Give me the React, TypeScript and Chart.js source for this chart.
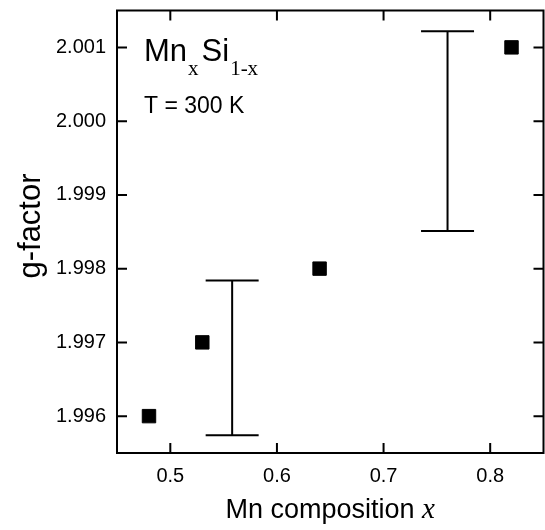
import React, { useEffect, useRef } from "react";
import { Chart, registerables } from "chart.js";

Chart.register(...registerables);

// ---- data ----
const compX = [0.48, 0.53, 0.64, 0.82];
const gFactor = [1.996, 1.997, 1.998, 2.001];
const errX = [0.558, 0.76];
const errLow = [1.99574, 1.99851];
const errHigh = [1.99784, 2.00122];
const xTicks = [0.5, 0.6, 0.7, 0.8];
const yTicks = [1.996, 1.997, 1.998, 1.999, 2.0, 2.001];
const xTitle = "Mn composition ";
const xTitleVar = "x";
const yTitle = "g-factor";
const annoMain = ["Mn", "Si"];
const annoSub = ["x", "1-x"];
const annoTemp = "T = 300 K";

const SANS = '"Liberation Sans", Arial, Helvetica, sans-serif';
const SERIF = '"Liberation Serif", "Times New Roman", serif';

const zeroPad = (s: any) => {
  s.paddingTop = 0;
  s.paddingBottom = 0;
  s.paddingLeft = 0;
  s.paddingRight = 0;
};

const decorPlugin = {
  id: "decor",
  afterDatasetsDraw(chart: any) {
    const { ctx, chartArea: a, scales } = chart;
    const x = scales.x;
    const y = scales.y;
    ctx.save();
    ctx.strokeStyle = "#000";
    ctx.lineWidth = 2;
    // error bars
    errX.forEach((ex, i) => {
      const px = x.getPixelForValue(ex);
      const lo = y.getPixelForValue(errLow[i]);
      const hi = y.getPixelForValue(errHigh[i]);
      const cw = 26.5;
      ctx.beginPath();
      ctx.moveTo(px, lo);
      ctx.lineTo(px, hi);
      ctx.moveTo(px - cw, lo);
      ctx.lineTo(px + cw, lo);
      ctx.moveTo(px - cw, hi);
      ctx.lineTo(px + cw, hi);
      ctx.stroke();
    });
    // frame
    ctx.strokeRect(a.left, a.top, a.right - a.left, a.bottom - a.top);
    // inward ticks
    const tl = 10;
    ctx.beginPath();
    xTicks.forEach((v) => {
      const px = x.getPixelForValue(v);
      ctx.moveTo(px, a.bottom);
      ctx.lineTo(px, a.bottom - tl);
      ctx.moveTo(px, a.top);
      ctx.lineTo(px, a.top + tl);
    });
    yTicks.forEach((v) => {
      const py = y.getPixelForValue(v);
      ctx.moveTo(a.left, py);
      ctx.lineTo(a.left + tl, py);
      ctx.moveTo(a.right, py);
      ctx.lineTo(a.right - tl, py);
    });
    ctx.stroke();

    // axis titles
    ctx.fillStyle = "#000";
    ctx.textBaseline = "alphabetic";
    ctx.font = `27px ${SANS}`;
    const w1 = ctx.measureText(xTitle).width;
    ctx.font = `italic 29px ${SERIF}`;
    const w2 = ctx.measureText(xTitleVar).width;
    const cx = (a.left + a.right) / 2;
    const sx = cx - (w1 + w2) / 2;
    ctx.font = `27px ${SANS}`;
    ctx.textAlign = "left";
    ctx.fillText(xTitle, sx, 518);
    ctx.font = `italic 29px ${SERIF}`;
    ctx.fillText(xTitleVar, sx + w1, 518);

    ctx.save();
    ctx.translate(40, 226);
    ctx.rotate(-Math.PI / 2);
    ctx.textAlign = "center";
    ctx.font = `31px ${SANS}`;
    ctx.fillText(yTitle, 0, 0);
    ctx.restore();

    // annotation
    let ax = 144;
    ctx.textAlign = "left";
    for (let i = 0; i < annoMain.length; i++) {
      ctx.font = `31px ${SANS}`;
      ctx.fillText(annoMain[i], ax, 61);
      ax += ctx.measureText(annoMain[i]).width + 1;
      ctx.font = `21px ${SERIF}`;
      ctx.fillText(annoSub[i], ax, 75);
      ax += ctx.measureText(annoSub[i]).width + 3;
    }
    ctx.font = `23px ${SANS}`;
    ctx.fillText(annoTemp, 144, 113);
    ctx.restore();
  },
};

export default function App() {
  const ref = useRef<HTMLCanvasElement | null>(null);
  useEffect(() => {
    if (!ref.current) return;
    const chart = new Chart(ref.current, {
      type: "scatter",
      data: {
        datasets: [
          {
            data: compX.map((v, i) => ({ x: v, y: gFactor[i] })),
            pointStyle: "rect",
            pointRadius: 9.5,
            pointBackgroundColor: "#000",
            pointBorderColor: "#000",
            pointBorderWidth: 1,
            showLine: false,
          },
        ],
      },
      options: {
        animation: false,
        responsive: false,
        devicePixelRatio: 1,
        layout: { padding: { top: 8, left: 0, right: 1, bottom: 0 } },
        plugins: { legend: { display: false }, tooltip: { enabled: false } },
        scales: {
          x: {
            type: "linear",
            min: 0.45,
            max: 0.85,
            afterBuildTicks: (s: any) => {
              s.ticks = xTicks.map((v) => ({ value: v }));
            },
            afterFit: (s: any) => {
              s.height = 77;
              zeroPad(s);
            },
            grid: { display: false, drawTicks: false },
            border: { display: false },
            ticks: {
              padding: 11,
              color: "#000",
              font: { family: SANS, size: 20 },
              callback: (v: any) => Number(v).toFixed(1),
            },
          },
          y: {
            type: "linear",
            min: 1.9955,
            max: 2.0015,
            afterBuildTicks: (s: any) => {
              s.ticks = yTicks.map((v) => ({ value: v }));
            },
            afterFit: (s: any) => {
              s.width = 117;
              zeroPad(s);
            },
            grid: { display: false, drawTicks: false },
            border: { display: false },
            ticks: {
              padding: 11,
              color: "#000",
              font: { family: SANS, size: 20 },
              callback: (v: any) => Number(v).toFixed(3),
            },
          },
        },
      },
      plugins: [decorPlugin],
    });
    return () => chart.destroy();
  }, []);
  return (
    <div
      style={{
        position: "absolute",
        left: 0,
        top: 0,
        width: 545,
        height: 530,
        overflow: "hidden",
        background: "#fff",
      }}
    >
      <canvas ref={ref} width={554} height={530} style={{ display: "block" }} />
    </div>
  );
}
